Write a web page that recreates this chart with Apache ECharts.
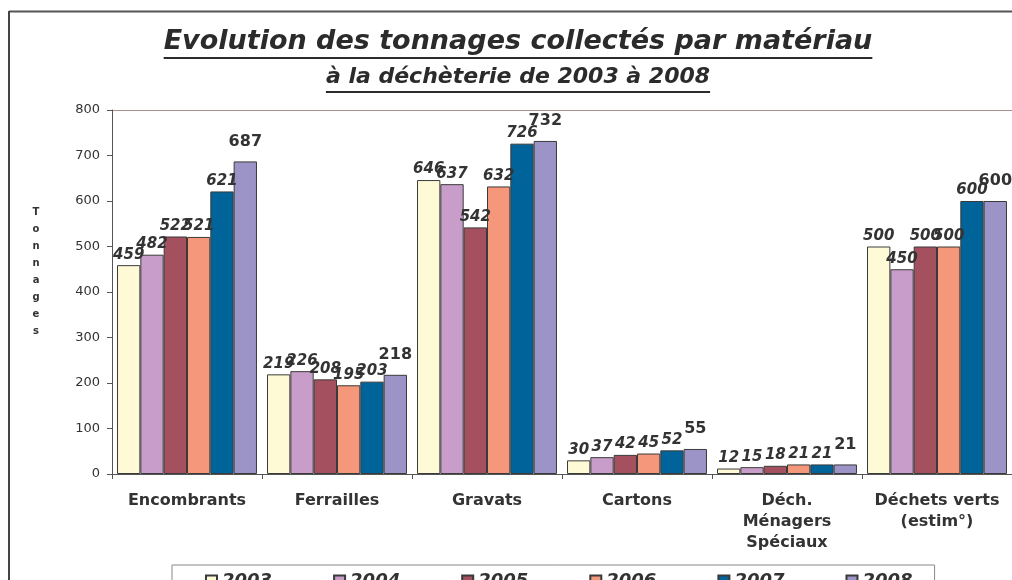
<!DOCTYPE html>
<html>
<head>
<meta charset="utf-8">
<script src="https://cdn.jsdelivr.net/npm/echarts@6/dist/echarts.min.js"></script>
<style>
  html, body { margin: 0; padding: 0; background: #fff; overflow: hidden; }
  #chart { width: 1012px; height: 580px; }
</style>
</head>
<body>
<div id="chart"></div>
<script>
// data
const categories = ['Encombrants', 'Ferrailles', 'Gravats', 'Cartons', 'Déch.\nMénagers\nSpéciaux', 'Déchets verts\n(estim°)'];
const years = ['2003', '2004', '2005', '2006', '2007', '2008'];
const v2003 = [459, 219, 646, 30, 12, 500];
const v2004 = [482, 226, 637, 37, 15, 450];
const v2005 = [522, 208, 542, 42, 18, 500];
const v2006 = [521, 195, 632, 45, 21, 500];
const v2007 = [621, 203, 726, 52, 21, 600];
const v2008 = [687, 218, 732, 55, 21, 600];
const yTicks = [0, 100, 200, 300, 400, 500, 600, 700, 800];

const values = [v2003, v2004, v2005, v2006, v2007, v2008];
const colors = ['#FFFAD6', '#C89DC9', '#A5505F', '#F4977A', '#00649A', '#9C93C7'];

const FONT = '"DejaVu Sans", sans-serif';
const titleText = 'Evolution des tonnages collectés par matériau';
const subText = 'à la déchèterie de 2003 à 2008';

// measure title widths for the underlines
const ctx = document.createElement('canvas').getContext('2d');
ctx.font = 'italic bold 27px "DejaVu Sans"';
const w1 = ctx.measureText(titleText).width;
ctx.font = 'italic bold 22px "DejaVu Sans"';
const w2 = ctx.measureText(subText).width;
const cx = 518;

const chart = echarts.init(document.getElementById('chart'));

const series = years.map((y, i) => ({
  name: y,
  type: 'bar',
  data: values[i],
  barGap: 0,
  barCategoryGap: '6.7%',
  itemStyle: { color: colors[i], borderColor: '#3a3a3a', borderWidth: 1 },
  label: {
    show: true,
    position: 'top',
    distance: i === 5 ? 12 : 3,
    color: '#333',
    fontFamily: FONT,
    fontWeight: 'bold',
    fontStyle: i === 5 ? 'normal' : 'italic',
    fontSize: i === 5 ? 16 : 15
  }
}));

chart.setOption({
  animation: false,
  backgroundColor: '#fff',
  grid: { left: 112, right: 0, top: 110, bottom: 106 },
  legend: {
    data: years,
    left: 172,
    top: 565,
    padding: [7, 22, 10, 33],
    itemGap: 61,
    itemWidth: 11,
    itemHeight: 11,
    icon: 'rect',
    borderColor: '#888',
    borderWidth: 1,
    textStyle: { fontFamily: FONT, fontWeight: 'bold', fontStyle: 'italic', fontSize: 18, color: '#333' }
  },
  xAxis: {
    type: 'category',
    data: categories,
    splitLine: { show: false },
    axisLine: { lineStyle: { color: '#555', width: 1 } },
    axisTick: { show: true, length: 5, lineStyle: { color: '#555' } },
    axisLabel: { margin: 16, fontFamily: FONT, fontWeight: 'bold', fontSize: 16, lineHeight: 21, color: '#333', interval: 0 }
  },
  yAxis: {
    type: 'value',
    min: yTicks[0],
    max: yTicks[yTicks.length - 1],
    interval: 100,
    axisLine: { show: true, lineStyle: { color: '#555', width: 1 } },
    axisTick: { show: true, length: 5, lineStyle: { color: '#555' } },
    axisLabel: { margin: 12, fontFamily: FONT, fontSize: 13, color: '#333' },
    splitLine: {
      show: true,
      lineStyle: { color: yTicks.map((t, i) => i === yTicks.length - 1 ? '#A89090' : 'rgba(0,0,0,0)'), width: 1 }
    }
  },
  graphic: [
    // outer frame (top and left edges only)
    { type: 'line', shape: { x1: 9, y1: 11.5, x2: 1012, y2: 11.5 }, style: { stroke: '#555', lineWidth: 2 } },
    { type: 'line', shape: { x1: 9, y1: 11, x2: 9, y2: 580 }, style: { stroke: '#444', lineWidth: 2 } },
    // titles
    { type: 'text', x: cx, y: 42, style: { text: titleText, fill: '#2b2b2b', font: 'italic bold 27px "DejaVu Sans"', align: 'center', verticalAlign: 'middle' } },
    { type: 'line', shape: { x1: cx - w1 / 2, y1: 58, x2: cx + w1 / 2, y2: 58 }, style: { stroke: '#2b2b2b', lineWidth: 2 } },
    { type: 'text', x: cx, y: 77, style: { text: subText, fill: '#2b2b2b', font: 'italic bold 22px "DejaVu Sans"', align: 'center', verticalAlign: 'middle' } },
    { type: 'line', shape: { x1: cx - w2 / 2, y1: 92, x2: cx + w2 / 2, y2: 92 }, style: { stroke: '#2b2b2b', lineWidth: 2 } },
    // vertical axis title
    { type: 'text', x: 36, y: 204, style: { text: 'Tonnages'.split('').join('\n'), fill: '#333', font: 'bold 10px "DejaVu Sans"', lineHeight: 17, align: 'center' } }
  ],
  series: series
});
</script>
</body>
</html>
